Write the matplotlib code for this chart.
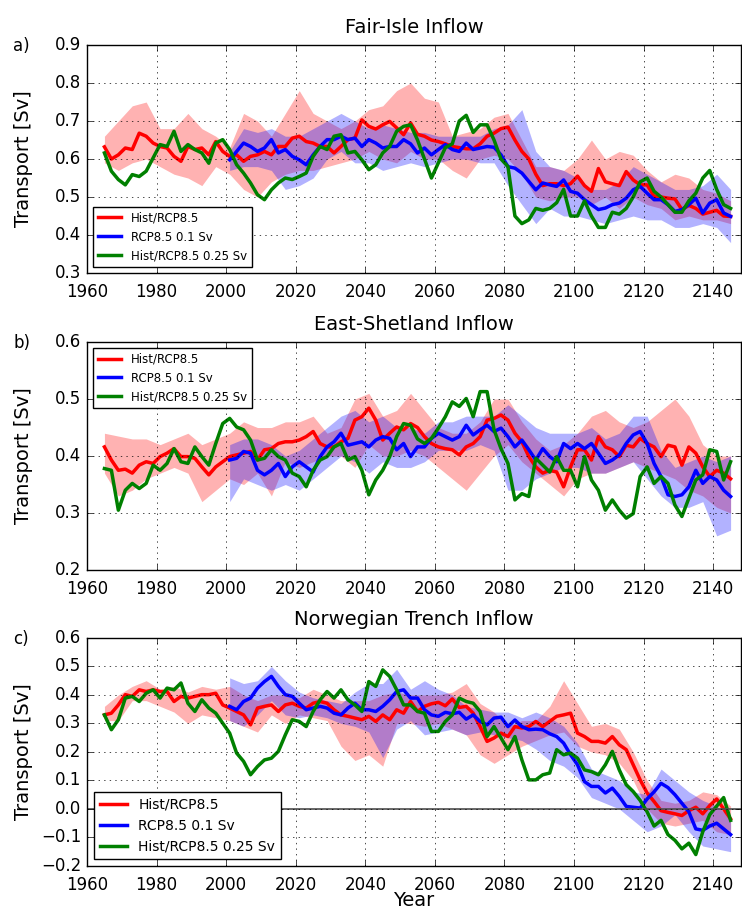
import numpy as np
import matplotlib
matplotlib.use("Agg")
import matplotlib.pyplot as plt

# years for the running-mean lines and the spread bands
years_hist = np.arange(1965, 2146, 2)
years_rcp = np.arange(2001, 2146, 2)
band_years_hist = np.arange(1965, 2146, 4)
band_years_rcp = np.arange(2001, 2146, 4)

labels = ["Hist/RCP8.5", "RCP8.5 0.1 Sv", "Hist/RCP8.5 0.25 Sv"]
titles = ["Fair-Isle Inflow", "East-Shetland Inflow", "Norwegian Trench Inflow"]
panel_tags = ["a)", "b)", "c)"]

# ---- a) Fair-Isle
fi_red = [0.632, 0.600, 0.611, 0.629, 0.625, 0.668, 0.660, 0.642, 0.633, 0.629,
          0.607, 0.594, 0.633, 0.625, 0.629, 0.611, 0.646, 0.620, 0.607, 0.611,
          0.594, 0.607, 0.611, 0.620, 0.611, 0.633, 0.633, 0.655, 0.660, 0.646,
          0.642, 0.633, 0.633, 0.616, 0.633, 0.651, 0.655, 0.703, 0.686, 0.679,
          0.690, 0.699, 0.682, 0.664, 0.695, 0.665, 0.660, 0.650, 0.646, 0.640,
          0.633, 0.630, 0.627, 0.627, 0.640, 0.660, 0.668, 0.680, 0.684, 0.650,
          0.620, 0.600, 0.560, 0.530, 0.535, 0.535, 0.530, 0.535, 0.555, 0.530,
          0.515, 0.575, 0.540, 0.535, 0.530, 0.567, 0.545, 0.532, 0.532, 0.502,
          0.500, 0.497, 0.495, 0.467, 0.478, 0.470, 0.455, 0.460, 0.465, 0.450,
          0.449]
fi_blue = [0.598, 0.620, 0.642, 0.633, 0.620, 0.629, 0.651, 0.616, 0.625, 0.607,
           0.598, 0.585, 0.611, 0.633, 0.651, 0.651, 0.660, 0.651, 0.655, 0.633,
           0.651, 0.642, 0.629, 0.633, 0.633, 0.651, 0.640, 0.616, 0.629, 0.611,
           0.625, 0.638, 0.625, 0.620, 0.642, 0.625, 0.629, 0.633, 0.631, 0.611,
           0.580, 0.576, 0.563, 0.541, 0.519, 0.537, 0.532, 0.528, 0.545, 0.515,
           0.510, 0.493, 0.480, 0.467, 0.471, 0.480, 0.484, 0.497, 0.519, 0.528,
           0.510, 0.493, 0.493, 0.480, 0.462, 0.467, 0.480, 0.497, 0.458, 0.484,
           0.493, 0.458, 0.449]
fi_green = [0.616, 0.568, 0.546, 0.532, 0.559, 0.554, 0.568, 0.603, 0.638, 0.633,
            0.673, 0.620, 0.638, 0.625, 0.616, 0.589, 0.642, 0.651, 0.625, 0.585,
            0.563, 0.537, 0.506, 0.493, 0.519, 0.537, 0.550, 0.546, 0.554, 0.563,
            0.607, 0.633, 0.625, 0.660, 0.664, 0.616, 0.620, 0.598, 0.572, 0.585,
            0.616, 0.633, 0.673, 0.686, 0.690, 0.650, 0.600, 0.550, 0.590, 0.630,
            0.640, 0.700, 0.715, 0.670, 0.690, 0.690, 0.650, 0.600, 0.580, 0.450,
            0.430, 0.440, 0.470, 0.465, 0.470, 0.485, 0.520, 0.450, 0.450, 0.490,
            0.450, 0.420, 0.420, 0.460, 0.455, 0.470, 0.500, 0.540, 0.550, 0.515,
            0.500, 0.480, 0.460, 0.460, 0.490, 0.510, 0.550, 0.570, 0.520, 0.480,
            0.470]
fi_red_lo = [0.59, 0.57, 0.59, 0.60, 0.58, 0.56, 0.55, 0.53, 0.58, 0.56,
             0.52, 0.50, 0.54, 0.56, 0.57, 0.57, 0.58, 0.59, 0.60, 0.62,
             0.60, 0.59, 0.62, 0.60, 0.60, 0.57, 0.55, 0.60, 0.61, 0.60,
             0.56, 0.50, 0.49, 0.50, 0.50, 0.48, 0.50, 0.47, 0.50, 0.48,
             0.47, 0.44, 0.45, 0.44, 0.44, 0.43]
fi_red_hi = [0.66, 0.70, 0.74, 0.75, 0.68, 0.68, 0.72, 0.68, 0.66, 0.63,
             0.72, 0.70, 0.66, 0.72, 0.78, 0.72, 0.70, 0.68, 0.70, 0.73,
             0.74, 0.78, 0.80, 0.76, 0.75, 0.66, 0.67, 0.68, 0.71, 0.72,
             0.65, 0.58, 0.58, 0.57, 0.60, 0.65, 0.60, 0.62, 0.61, 0.57,
             0.54, 0.56, 0.55, 0.52, 0.51, 0.49]
fi_blue_lo = [0.57, 0.58, 0.58, 0.57, 0.52, 0.53, 0.55, 0.60, 0.62, 0.59,
              0.59, 0.57, 0.58, 0.59, 0.58, 0.59, 0.60, 0.60, 0.59, 0.59,
              0.53, 0.48, 0.43, 0.47, 0.45, 0.45, 0.44, 0.43, 0.44, 0.45,
              0.44, 0.44, 0.42, 0.42, 0.43, 0.42, 0.38]
fi_blue_hi = [0.62, 0.68, 0.67, 0.68, 0.66, 0.66, 0.68, 0.70, 0.72, 0.70,
              0.68, 0.69, 0.68, 0.67, 0.67, 0.66, 0.66, 0.66, 0.66, 0.68,
              0.69, 0.73, 0.62, 0.58, 0.57, 0.55, 0.52, 0.52, 0.54, 0.58,
              0.56, 0.54, 0.52, 0.52, 0.53, 0.56, 0.52]

# ---- b) East-Shetland
es_red = [0.416, 0.393, 0.375, 0.377, 0.370, 0.384, 0.390, 0.387, 0.399, 0.405,
          0.413, 0.399, 0.399, 0.396, 0.381, 0.367, 0.381, 0.390, 0.399, 0.402,
          0.405, 0.408, 0.393, 0.411, 0.413, 0.422, 0.425, 0.425, 0.428, 0.434,
          0.443, 0.422, 0.416, 0.416, 0.425, 0.431, 0.463, 0.469, 0.484, 0.463,
          0.428, 0.440, 0.451, 0.446, 0.457, 0.450, 0.434, 0.422, 0.416, 0.413,
          0.411, 0.402, 0.416, 0.422, 0.434, 0.463, 0.466, 0.472, 0.463, 0.440,
          0.425, 0.399, 0.381, 0.370, 0.375, 0.372, 0.346, 0.381, 0.411, 0.411,
          0.393, 0.434, 0.416, 0.411, 0.399, 0.419, 0.416, 0.431, 0.422, 0.416,
          0.399, 0.419, 0.416, 0.384, 0.416, 0.405, 0.381, 0.364, 0.375, 0.370,
          0.360]
es_blue = [0.393, 0.396, 0.408, 0.405, 0.375, 0.367, 0.375, 0.387, 0.364, 0.381,
           0.390, 0.381, 0.372, 0.399, 0.416, 0.425, 0.440, 0.419, 0.422, 0.425,
           0.416, 0.428, 0.434, 0.431, 0.411, 0.422, 0.399, 0.416, 0.416, 0.431,
           0.440, 0.434, 0.428, 0.434, 0.454, 0.437, 0.446, 0.454, 0.443, 0.449,
           0.434, 0.416, 0.428, 0.411, 0.393, 0.413, 0.399, 0.390, 0.422, 0.413,
           0.422, 0.413, 0.422, 0.405, 0.387, 0.393, 0.402, 0.422, 0.437, 0.443,
           0.422, 0.387, 0.364, 0.332, 0.329, 0.332, 0.346, 0.375, 0.352, 0.364,
           0.358, 0.340, 0.329]
es_green = [0.378, 0.375, 0.305, 0.340, 0.352, 0.343, 0.352, 0.384, 0.375, 0.387,
            0.413, 0.390, 0.387, 0.416, 0.399, 0.384, 0.422, 0.457, 0.466, 0.451,
            0.446, 0.428, 0.393, 0.396, 0.411, 0.399, 0.393, 0.370, 0.364, 0.346,
            0.375, 0.393, 0.399, 0.416, 0.422, 0.393, 0.399, 0.375, 0.332, 0.358,
            0.375, 0.399, 0.434, 0.457, 0.454, 0.430, 0.422, 0.431, 0.449, 0.469,
            0.495, 0.487, 0.501, 0.469, 0.513, 0.513, 0.446, 0.413, 0.387, 0.323,
            0.334, 0.329, 0.396, 0.384, 0.372, 0.399, 0.375, 0.375, 0.346, 0.399,
            0.358, 0.340, 0.305, 0.323, 0.305, 0.291, 0.299, 0.364, 0.381, 0.352,
            0.364, 0.352, 0.314, 0.294, 0.326, 0.358, 0.367, 0.411, 0.408, 0.358,
            0.390]
es_red_lo = [0.37, 0.33, 0.34, 0.36, 0.37, 0.38, 0.37, 0.32, 0.34, 0.36,
             0.35, 0.37, 0.33, 0.39, 0.38, 0.39, 0.40, 0.40, 0.38, 0.42,
             0.40, 0.40, 0.41, 0.40, 0.38, 0.36, 0.34, 0.37, 0.40, 0.42,
             0.39, 0.37, 0.35, 0.33, 0.36, 0.37, 0.37, 0.38, 0.39, 0.38,
             0.37, 0.36, 0.34, 0.33, 0.31, 0.30]
es_red_hi = [0.44, 0.435, 0.43, 0.43, 0.42, 0.43, 0.44, 0.42, 0.43, 0.44,
             0.46, 0.45, 0.45, 0.46, 0.46, 0.47, 0.44, 0.45, 0.50, 0.51,
             0.47, 0.48, 0.51, 0.48, 0.45, 0.44, 0.44, 0.46, 0.50, 0.50,
             0.46, 0.43, 0.41, 0.42, 0.44, 0.47, 0.48, 0.46, 0.45, 0.46,
             0.48, 0.50, 0.47, 0.42, 0.40, 0.40]
es_blue_lo = [0.32, 0.36, 0.35, 0.34, 0.35, 0.34, 0.36, 0.38, 0.40, 0.39,
              0.37, 0.39, 0.38, 0.38, 0.39, 0.41, 0.41, 0.41, 0.42, 0.41,
              0.34, 0.34, 0.36, 0.37, 0.38, 0.38, 0.37, 0.37, 0.38, 0.39,
              0.36, 0.33, 0.31, 0.31, 0.32, 0.26, 0.27]
es_blue_hi = [0.42, 0.43, 0.43, 0.42, 0.40, 0.41, 0.43, 0.45, 0.47, 0.48,
              0.46, 0.47, 0.45, 0.45, 0.44, 0.46, 0.46, 0.47, 0.47, 0.47,
              0.49, 0.47, 0.45, 0.44, 0.44, 0.44, 0.45, 0.43, 0.44, 0.47,
              0.47, 0.41, 0.38, 0.39, 0.40, 0.39, 0.40]

# ---- c) Norwegian Trench
nt_red = [0.330, 0.336, 0.365, 0.401, 0.395, 0.418, 0.412, 0.418, 0.412, 0.412,
          0.377, 0.395, 0.389, 0.395, 0.401, 0.401, 0.406, 0.365, 0.354, 0.342,
          0.330, 0.295, 0.354, 0.360, 0.365, 0.342, 0.365, 0.371, 0.360, 0.354,
          0.371, 0.377, 0.371, 0.348, 0.330, 0.325, 0.319, 0.313, 0.325, 0.307,
          0.330, 0.313, 0.348, 0.336, 0.377, 0.342, 0.360, 0.369, 0.374, 0.362,
          0.386, 0.356, 0.360, 0.336, 0.289, 0.237, 0.249, 0.266, 0.254, 0.289,
          0.284, 0.289, 0.307, 0.289, 0.307, 0.325, 0.330, 0.336, 0.266, 0.254,
          0.237, 0.237, 0.231, 0.254, 0.225, 0.208, 0.155, 0.102, 0.056, 0.026,
          -0.006, -0.012, -0.017, -0.023, -0.006, 0.006, -0.017, 0.012, 0.035, 0.000,
          -0.035]
nt_blue = [0.360, 0.348, 0.377, 0.389, 0.424, 0.447, 0.465, 0.430, 0.401, 0.395,
           0.371, 0.348, 0.354, 0.360, 0.354, 0.336, 0.330, 0.354, 0.371, 0.348,
           0.348, 0.342, 0.360, 0.383, 0.412, 0.418, 0.389, 0.389, 0.348, 0.330,
           0.325, 0.339, 0.334, 0.339, 0.315, 0.330, 0.307, 0.295, 0.319, 0.322,
           0.289, 0.312, 0.289, 0.278, 0.280, 0.278, 0.264, 0.254, 0.231, 0.190,
           0.155, 0.096, 0.079, 0.079, 0.056, 0.073, 0.044, 0.009, 0.006, 0.003,
           0.035, 0.060, 0.090, 0.075, 0.050, 0.020, -0.010, -0.070, -0.075, -0.060,
           -0.050, -0.070, -0.090]
nt_green = [0.330, 0.278, 0.313, 0.389, 0.395, 0.377, 0.406, 0.418, 0.389, 0.424,
            0.418, 0.442, 0.371, 0.342, 0.383, 0.354, 0.336, 0.301, 0.266, 0.196,
            0.167, 0.120, 0.149, 0.172, 0.178, 0.202, 0.260, 0.313, 0.307, 0.289,
            0.342, 0.383, 0.412, 0.389, 0.418, 0.383, 0.365, 0.342, 0.447, 0.430,
            0.488, 0.465, 0.418, 0.365, 0.365, 0.342, 0.336, 0.272, 0.272, 0.307,
            0.330, 0.389, 0.377, 0.371, 0.342, 0.254, 0.289, 0.249, 0.208, 0.254,
            0.172, 0.102, 0.102, 0.120, 0.126, 0.208, 0.190, 0.196, 0.178, 0.137,
            0.131, 0.120, 0.155, 0.202, 0.137, 0.085, 0.061, 0.030, -0.010, -0.060,
            -0.040, -0.090, -0.110, -0.140, -0.120, -0.160, -0.080, -0.020, 0.010, 0.040,
            -0.040]
nt_red_lo = [0.31, 0.31, 0.38, 0.38, 0.36, 0.34, 0.30, 0.33, 0.32, 0.31,
             0.29, 0.27, 0.33, 0.30, 0.33, 0.32, 0.31, 0.22, 0.17, 0.19,
             0.15, 0.30, 0.30, 0.29, 0.30, 0.28, 0.26, 0.19, 0.16, 0.19,
             0.22, 0.24, 0.26, 0.27, 0.22, 0.20, 0.19, 0.16, 0.10, 0.00,
             -0.05, -0.06, -0.05, -0.04, -0.08, -0.09]
nt_red_hi = [0.36, 0.40, 0.43, 0.45, 0.42, 0.43, 0.41, 0.43, 0.42, 0.43,
             0.40, 0.38, 0.40, 0.40, 0.39, 0.42, 0.40, 0.38, 0.38, 0.38,
             0.40, 0.41, 0.40, 0.40, 0.40, 0.41, 0.44, 0.37, 0.34, 0.29,
             0.31, 0.31, 0.36, 0.45, 0.37, 0.29, 0.30, 0.28, 0.20, 0.10,
             0.03, 0.02, 0.03, 0.06, 0.05, 0.01]
nt_blue_lo = [0.31, 0.29, 0.33, 0.38, 0.33, 0.32, 0.33, 0.32, 0.30, 0.29,
              0.27, 0.18, 0.28, 0.31, 0.26, 0.27, 0.28, 0.26, 0.27, 0.26,
              0.25, 0.24, 0.21, 0.17, 0.15, 0.11, 0.04, 0.02, 0.00, -0.04,
              -0.08, -0.06, -0.02, -0.08, -0.13, -0.14, -0.15]
nt_blue_hi = [0.46, 0.44, 0.45, 0.50, 0.45, 0.41, 0.39, 0.38, 0.37, 0.41,
              0.44, 0.44, 0.49, 0.42, 0.45, 0.42, 0.40, 0.36, 0.35, 0.34,
              0.34, 0.32, 0.34, 0.32, 0.29, 0.23, 0.14, 0.12, 0.10, 0.06,
              0.05, 0.14, 0.10, 0.06, 0.03, 0.01, -0.03]

panels = [
    (fi_red, fi_blue, fi_green, fi_red_lo, fi_red_hi, fi_blue_lo, fi_blue_hi),
    (es_red, es_blue, es_green, es_red_lo, es_red_hi, es_blue_lo, es_blue_hi),
    (nt_red, nt_blue, nt_green, nt_red_lo, nt_red_hi, nt_blue_lo, nt_blue_hi),
]
ylims = [(0.3, 0.9), (0.2, 0.6), (-0.2, 0.6)]
legend_locs = ["lower left", "upper left", "lower left"]
legend_sizes = [8.5, 8.5, 10]

plt.style.use("classic")
plt.rcParams["font.family"] = ["DejaVu Sans"]
plt.rcParams["xtick.major.pad"] = 7

fig = plt.figure(figsize=(7.42, 9.15), dpi=100, facecolor="white")
bottoms = [0.7016, 0.377, 0.0536]

for i in range(3):
    red, blue, green, rlo, rhi, blo, bhi = panels[i]
    ax = fig.add_axes([0.1173, bottoms[i], 0.8814, 0.2492])

    ax.fill_between(band_years_hist, rlo, rhi, color="r", alpha=0.3, linewidth=0)
    ax.fill_between(band_years_rcp, blo, bhi, color="b", alpha=0.3, linewidth=0)
    ax.plot(years_hist, red, color="r", linewidth=2.5, label=labels[0])
    ax.plot(years_rcp, blue, color="b", linewidth=2.5, label=labels[1])
    ax.plot(years_hist, green, color="g", linewidth=2.5, label=labels[2])
    if i == 2:
        ax.axhline(0, color="0.3", linewidth=1.2)

    ax.set_xlim(1960, 2148)
    ax.set_ylim(*ylims[i])
    ax.set_xticks(np.arange(1960, 2141, 20))
    ax.set_yticks(np.arange(ylims[i][0], ylims[i][1] + 0.01, 0.1))
    ax.tick_params(labelsize=12)
    ax.grid(True)
    ax.set_title(titles[i], fontsize=14, pad=9)
    ax.set_ylabel("Transport [Sv]", fontsize=14)
    ax.yaxis.set_label_coords(-0.083, 0.5)
    ax.text(-0.113, 0.975, panel_tags[i], transform=ax.transAxes,
            fontsize=12, ha="left", va="baseline")
    leg = ax.legend(loc=legend_locs[i], fontsize=legend_sizes[i], numpoints=1)
    leg.get_frame().set_linewidth(1.0)

ax.set_xlabel("Year", fontsize=14)
ax.xaxis.set_label_coords(0.5, -0.11)

plt.savefig("out.png", dpi=100, facecolor="white")
